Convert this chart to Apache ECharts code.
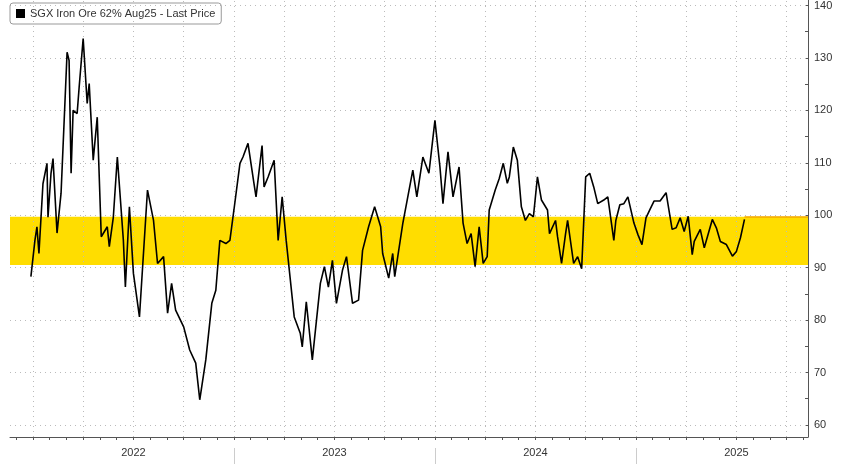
<!DOCTYPE html>
<html><head><meta charset="utf-8">
<script src="https://cdn.jsdelivr.net/npm/echarts@6/dist/echarts.min.js"></script>
<style>html,body{margin:0;padding:0;background:#fff}#c{width:848px;height:464px}</style>
</head><body><div id="c"></div>
<script>
const seriesName = 'SGX Iron Ore 62% Aug25 - Last Price';
// time in decimal years
const t = [2021.99,2022.01,2022.02,2022.03,2022.05,2022.07,2022.075,2022.09,2022.10,2022.12,2022.14,2022.17,2022.18,2022.19,2022.20,2022.22,2022.23,2022.25,2022.27,2022.28,2022.30,2022.32,2022.34,2022.37,2022.38,2022.40,2022.42,2022.45,2022.46,2022.48,2022.50,2022.53,2022.57,2022.60,2022.62,2022.65,2022.67,2022.69,2022.71,2022.75,2022.78,2022.81,2022.83,2022.86,2022.89,2022.91,2022.93,2022.96,2022.98,2023.00,2023.03,2023.045,2023.07,2023.10,2023.11,2023.14,2023.15,2023.17,2023.20,2023.22,2023.24,2023.26,2023.30,2023.33,2023.34,2023.36,2023.39,2023.43,2023.45,2023.47,2023.49,2023.51,2023.54,2023.56,2023.59,2023.62,2023.64,2023.67,2023.70,2023.73,2023.74,2023.77,2023.79,2023.80,2023.84,2023.89,2023.91,2023.94,2023.97,2024.00,2024.025,2024.04,2024.065,2024.09,2024.12,2024.14,2024.16,2024.18,2024.20,2024.22,2024.24,2024.26,2024.27,2024.30,2024.32,2024.34,2024.36,2024.37,2024.39,2024.41,2024.43,2024.45,2024.47,2024.49,2024.51,2024.53,2024.56,2024.57,2024.60,2024.61,2024.63,2024.65,2024.66,2024.69,2024.71,2024.73,2024.75,2024.77,2024.79,2024.81,2024.84,2024.86,2024.89,2024.90,2024.92,2024.94,2024.96,2024.99,2025.01,2025.03,2025.05,2025.07,2025.09,2025.12,2025.15,2025.18,2025.20,2025.22,2025.24,2025.26,2025.28,2025.29,2025.32,2025.34,2025.38,2025.40,2025.42,2025.45,2025.48,2025.50,2025.52,2025.54];
const price = [88.3,95.2,97.8,92.7,106,109.9,99.6,108,110.8,96.6,104.2,131.1,129.5,108,120,119.4,124.4,133.7,121.3,125.1,110.5,118.7,95.9,97.8,94,99.6,111.1,95.2,86.3,101.6,88.9,80.6,104.8,99,90.8,92.1,81.3,87,81.9,78.7,74.3,71.8,64.8,72.4,83.2,85.7,95.2,94.6,95.2,101,109.9,111.1,113.7,106,103.5,113.3,105.4,107.3,110.5,95.2,103.5,95.2,80.6,77.5,74.9,83.5,72.4,87,90.2,86.3,91.4,83.2,89.5,92.1,83.2,83.8,93.3,97.8,101.6,97.8,92.7,88,92.7,88.3,98.4,108.6,103.5,111.1,108,118.1,109.2,102.2,112.1,103.5,109.2,98.5,94.6,96.5,90.2,97.8,90.8,92.1,101,104.8,107,109.9,106.1,107.3,113,110.5,101.6,99,100.3,99.7,107.3,102.9,101,96.5,99,95.9,90.8,96.5,99,90.8,92.1,89.8,107.3,108,105.4,102.2,102.9,103.5,95.2,99,102,102.2,103.5,98.5,96.3,94.4,99.5,101.1,102.7,102.7,104.3,97.3,97.6,99.5,96.9,99.8,92.5,95,97.3,93.8,99.2,97.6,95,94.4,92.2,93.1,95.7,99.2];
const bandLow = 90.5, bandHigh = 99.7;
const yTicks = [60,70,80,90,100,110,120,130,140];
const yearLabels = ['2022','2023','2024','2025'];
const years = [2022,2023,2024,2025];

const quarters = []; for (let y=2022;y<=2025;y++) for (let q=0;q<4;q++) quarters.push(y+q/4);
const months = []; for (let y=2021;y<=2025;y++) for (let m=0;m<12;m++){const v=y+m/12; if(v>2021.9&&v<2025.85) months.push(v);}
const xMin = 2021.886, xMax = 2025.856;
const dotted = {type:[1,4], color:'#bbb', width:1};
const chart = echarts.init(document.getElementById('c'));
chart.setOption({
  animation:false,
  grid:{left:10,right:40,top:0,bottom:27},
  legend:{show:true,left:10,top:3,itemWidth:9,itemHeight:9,icon:'rect',padding:[5,6],
    borderColor:'#999',borderWidth:1,borderRadius:3,
    textStyle:{fontFamily:'Liberation Sans Narrow, Arial Narrow, sans-serif',fontSize:11,color:'#333'},
    data:[{name:seriesName,itemStyle:{color:'#000'}}]},
  xAxis:[{type:'value',min:xMin,max:xMax,
    axisLine:{show:true,lineStyle:{color:'#555'}},
    axisTick:{show:true,customValues:months,length:3,lineStyle:{color:'#555'}},
    axisLabel:{show:false},splitLine:{show:false}},
   {type:'value',min:xMin,max:xMax,position:'bottom',offset:11,gridIndex:0,
    axisLine:{show:false},
    axisTick:{show:true,customValues:[2023,2024,2025],length:16,inside:false,lineStyle:{color:'#ccc'}},
    axisLabel:{show:true,customValues:years.map(y=>y+0.5),formatter:v=>yearLabels[years.indexOf(Math.round(v-0.5))],
      fontFamily:'Liberation Sans Narrow, Arial Narrow, sans-serif',fontSize:11,color:'#333',margin:-1},
    splitLine:{show:false}}],
  yAxis:{type:'value',position:'right',min:57.7,max:141,
    axisLine:{show:true,lineStyle:{color:'#555'}},
    axisTick:{show:true,customValues:[60,65,70,75,80,85,90,95,100,105,110,115,120,125,130,135,140],length:3,inside:true,lineStyle:{color:'#555'}},
    axisLabel:{customValues:yTicks,fontFamily:'Liberation Sans Narrow, Arial Narrow, sans-serif',fontSize:11,color:'#333',margin:6},
    splitLine:{show:false}},
  series:[{name:seriesName,type:'line',showSymbol:false,symbol:'none',
    data:t.map((x,i)=>[x,price[i]]),
    lineStyle:{color:'#000',width:1.6},itemStyle:{color:'#000'},z:5,
    markArea:{silent:true,itemStyle:{color:'#FFDD00'},data:[[{yAxis:bandLow},{yAxis:bandHigh}]]},
    markLine:{silent:true,symbol:'none',label:{show:false},z:1,
      data:[
        ...quarters.map(q=>({xAxis:q,lineStyle:dotted})),
        ...yTicks.map(v=>({yAxis:v,lineStyle:dotted})),
        [{coord:[t[t.length-1],bandHigh],lineStyle:{color:'#F5A800',width:1.5,type:'solid'}},{coord:[xMax,bandHigh]}]
      ]}}]
});
</script></body></html>
